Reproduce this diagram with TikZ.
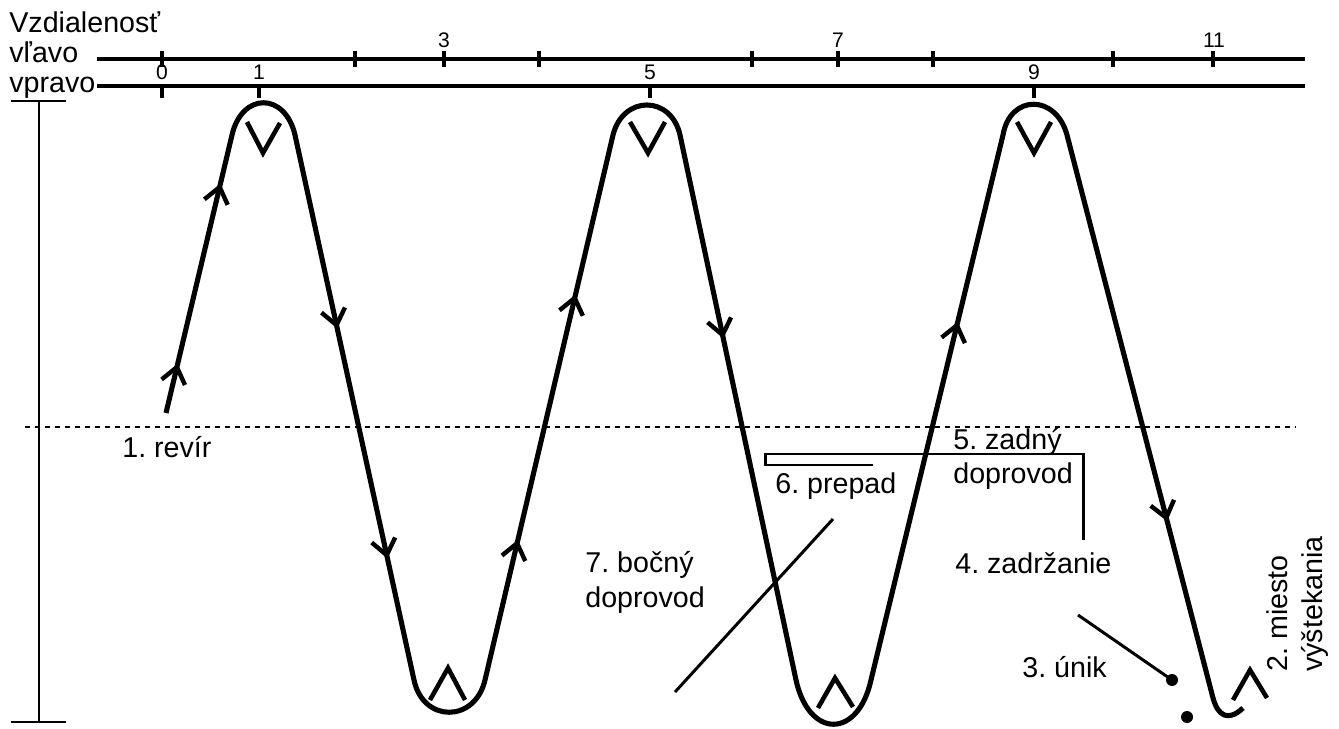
\documentclass[tikz,border=0pt]{standalone}
\usepackage{fontspec}
\setmainfont{Liberation Sans}
\usetikzlibrary{decorations.markings}
\newcommand\chevdraw{\draw[line width=2.5pt] (-0.31cm,0.24cm) -- (0,0) -- (-0.31cm,-0.24cm);}
\frenchspacing
\begin{document}
\begin{tikzpicture}[x=0.02cm,y=-0.02cm,
  wave/.style={line width=2.9pt, line join=round},
  axisline/.style={line width=2.1pt},
  tickmark/.style={line width=2.4pt},
  thinline/.style={line width=1.7pt},
  barline/.style={line width=1.2pt},
  mk/.style={line width=2.6pt},
  lbl/.style={font=\fontsize{16.3}{19}\selectfont, inner sep=0pt, anchor=base west},
  ticklbl/.style={font=\fontsize{12}{14}\selectfont, inner sep=0pt, anchor=base},
  dotline/.style={line width=1.3pt, dash pattern=on 0.1cm off 0.1cm}
]
\useasboundingbox (0,0) rectangle (1339,729);

% header texts
\node[lbl] (tdist) at (9,33) {Vzdialenosť};
\node[lbl] (tleft) at (9,63) {vľavo};
\node[lbl] (tright) at (9,93) {vpravo};

% axes
\coordinate (L1a) at (97,59); \coordinate (L1b) at (1305,59);
\coordinate (L2a) at (97,86); \coordinate (L2b) at (1305,86);
\draw[axisline] (L1a) -- (L1b);
\draw[axisline] (L2a) -- (L2b);
\foreach \xx in {162,355,444,539,752,838,933,1113,1213}
  \draw[tickmark] (\xx,51) -- (\xx,67);
\foreach \xx in {162,259,650,1034}
  \draw[tickmark] (\xx,86) -- (\xx,98);
\node[ticklbl] (n3) at (444,48) {3};
\node[ticklbl] (n7) at (838,48) {7};
\node[ticklbl] (n11) at (1214,48) {11};
\node[ticklbl] (n0) at (162,80) {0};
\node[ticklbl] (n1) at (259,80) {1};
\node[ticklbl] (n5) at (650,80) {5};
\node[ticklbl] (n9) at (1034,80) {9};

% scale bar
\coordinate (Ba) at (39,101); \coordinate (Bb) at (39,722);
\draw[barline] (11,101) -- (66,101);
\draw[barline] (11,722) -- (66,722);
\draw[barline] (Ba) -- (Bb);

% dotted line
\coordinate (D1) at (25,427); \coordinate (D2) at (1295,427);
\draw[dotline] (D1) -- (D2);

% wave path
\coordinate (S) at (166,413);
\coordinate (P1a) at (232,135); \coordinate (P1b) at (295,135);
\coordinate (T1a) at (414,680); \coordinate (T1b) at (485,680);
\coordinate (P2a) at (613,135); \coordinate (P2b) at (680,135);
\coordinate (T2a) at (796,680); \coordinate (T2b) at (871,680);
\coordinate (P3a) at (1003,135); \coordinate (P3b) at (1067,135);
\coordinate (E1) at (1213,698); \coordinate (E2) at (1243,708);
\draw[wave] (S) -- (P1a) .. controls (242,92) and (285,92) .. (P1b)
  -- (T1a) .. controls (423,723) and (475,723) .. (T1b)
  -- (P2a) .. controls (623,95) and (671,95) .. (P2b)
  -- (T2a) .. controls (809,739) and (858,739) .. (T2b)
  -- (P3a) .. controls (1010,94) and (1056,94) .. (P3b)
  -- (E1) .. controls (1218,716) and (1228,722) .. (E2);

% direction chevrons
\path[decorate, decoration={markings,
  mark=at position 0.165 with {\chevdraw},
  mark=at position 0.813 with {\chevdraw}}] (S) -- (P1a);
\path[decorate, decoration={markings,
  mark=at position 0.349 with {\chevdraw},
  mark=at position 0.771 with {\chevdraw}}] (P1b) -- (T1a);
\path[decorate, decoration={markings,
  mark=at position 0.251 with {\chevdraw},
  mark=at position 0.701 with {\chevdraw}}] (T1b) -- (P2a);
\path[decorate, decoration={markings,
  mark=at position 0.367 with {\chevdraw}}] (P2b) -- (T2a);
\path[decorate, decoration={markings,
  mark=at position 0.651 with {\chevdraw}}] (T2b) -- (P3a);
\path[decorate, decoration={markings,
  mark=at position 0.680 with {\chevdraw}}] (P3b) -- (E1);

% peak and trough markers
\draw[mk] (247,122) -- (263,153) -- (280,123);
\draw[mk] (630,122) -- (648,153) -- (665,122);
\draw[mk] (1017,122) -- (1034,153) -- (1051,122);
\draw[mk] (430,700) -- (448,668) -- (465,700);
\draw[mk] (818,708) -- (835,678) -- (853,707);
\draw[mk] (1233,700) -- (1250,670) -- (1267,698);

% labels
\node[lbl] (l1) at (122,458) {1. revír};
\node[lbl] (l5a) at (953,450) {5. zadný};
\node[lbl] (l5b) at (953,483) {doprovod};
\node[lbl] (l6) at (775,493) {6. prepad};
\node[lbl] (l7a) at (585,572) {7. bočný};
\node[lbl] (l7b) at (585,607) {doprovod};
\node[lbl] (l4) at (955,573) {4. zadržanie};
\node[lbl] (l3) at (1022,677) {3. únik};
\node[lbl, rotate=90] (l2a) at (1287,672) {2. miesto};
\node[lbl, rotate=90] (l2b) at (1322,672) {výštekania};

% bracket for 5 / 6
\coordinate (K1) at (873,465); \coordinate (K2) at (765,465);
\coordinate (K3) at (765,454); \coordinate (K4) at (1083,454);
\coordinate (K5) at (1083,540);
\draw[thinline] (K1) -- (K2) -- (K3) -- (K4) -- (K5);

% line for 7
\coordinate (G1) at (833,519); \coordinate (G2) at (675,692);
\draw[thinline] (G1) -- (G2);

% line and dots for 3
\coordinate (U1) at (1078,615); \coordinate (U2) at (1172,680);
\coordinate (U3) at (1187,717);
\draw[thinline] (U1) -- (U2);
\fill (U2) circle[radius=0.12cm];
\fill (U3) circle[radius=0.12cm];
\end{tikzpicture}
\end{document}
